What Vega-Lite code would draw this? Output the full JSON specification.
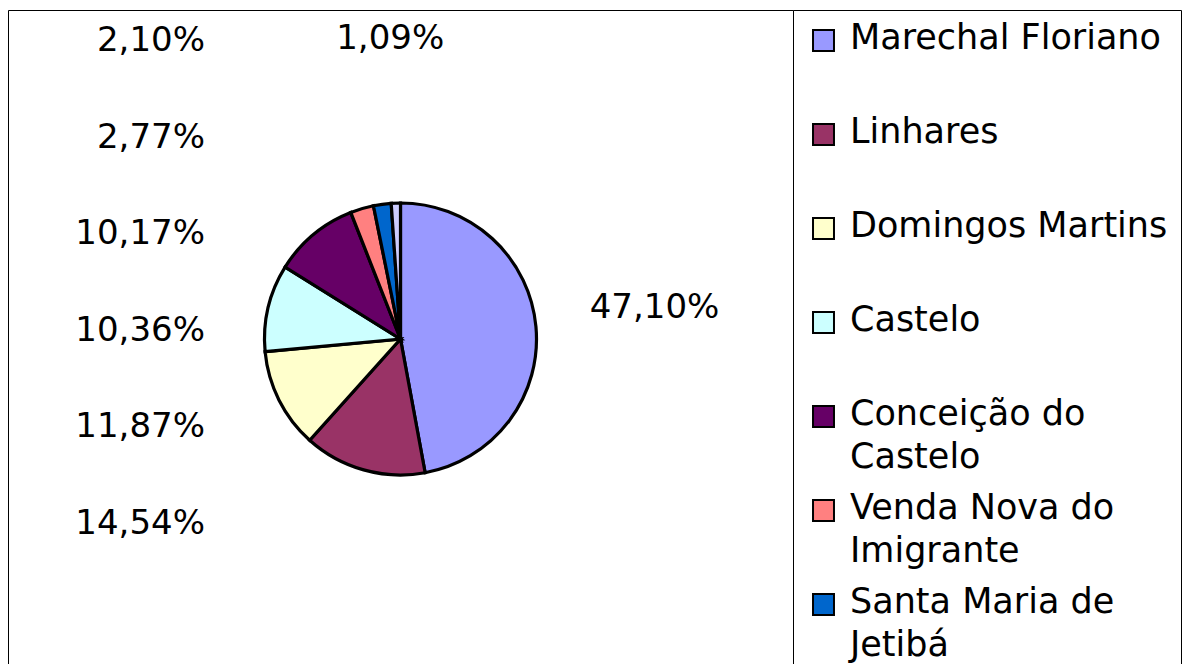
{
  "$schema": "https://vega.github.io/schema/vega-lite/v6.json",
  "width": 785,
  "height": 658,
  "padding": {"left": 8, "top": 9, "right": 0, "bottom": 0},
  "background": "white",
  "config": {"view": {"stroke": "black", "strokeWidth": 1}, "font": "DejaVu Sans"},
  "data": {
    "values": [
      {"name": "Marechal Floriano", "pct": 47.10, "label": "47,10%", "order": 1},
      {"name": "Linhares", "pct": 14.54, "label": "14,54%", "order": 2},
      {"name": "Domingos Martins", "pct": 11.87, "label": "11,87%", "order": 3},
      {"name": "Castelo", "pct": 10.36, "label": "10,36%", "order": 4},
      {"name": "Conceição do Castelo", "pct": 10.17, "label": "10,17%", "order": 5},
      {"name": "Venda Nova do Imigrante", "pct": 2.77, "label": "2,77%", "order": 6},
      {"name": "Santa Maria de Jetibá", "pct": 2.10, "label": "2,10%", "order": 7},
      {"name": "Outros", "pct": 1.09, "label": "1,09%", "order": 8}
    ]
  },
  "layer": [
    {
      "mark": {"type": "arc", "outerRadius": 136, "stroke": "black", "strokeWidth": 3.2},
      "encoding": {
        "theta": {"field": "pct", "type": "quantitative", "stack": true},
        "order": {"field": "order", "type": "quantitative"},
        "color": {
          "field": "name",
          "type": "nominal",
          "sort": ["Marechal Floriano", "Linhares", "Domingos Martins", "Castelo", "Conceição do Castelo", "Venda Nova do Imigrante", "Santa Maria de Jetibá", "Outros"],
          "scale": {
            "domain": ["Marechal Floriano", "Linhares", "Domingos Martins", "Castelo", "Conceição do Castelo", "Venda Nova do Imigrante", "Santa Maria de Jetibá", "Outros"],
            "range": ["#9999FF", "#993366", "#FFFFCC", "#CCFFFF", "#660066", "#FF8080", "#0066CC", "#CCCCFF"]
          },
          "legend": {
            "orient": "none",
            "legendX": 785,
            "legendY": 0,
            "title": null,
            "direction": "vertical",
            "strokeColor": "black",
            "fillColor": "white",
            "padding": 13,
            "symbolType": "square",
            "symbolSize": 440,
            "symbolStrokeColor": "black",
            "symbolStrokeWidth": 2,
            "symbolOpacity": 1,
            "labelFont": "DejaVu Sans",
            "labelFontSize": 35,
            "labelColor": "black",
            "labelLimit": 600,
            "labelOffset": 9,
            "labelBaseline": "alphabetic",
            "gridAlign": "all",
            "rowPadding": 15,
            "labelExpr": "datum.label == 'Conceição do Castelo' ? ['Conceição do', 'Castelo'] : datum.label == 'Venda Nova do Imigrante' ? ['Venda Nova do', 'Imigrante'] : datum.label == 'Santa Maria de Jetibá' ? ['Santa Maria de', 'Jetibá'] : datum.label",
            "encode": {"labels": {"update": {"lineHeight": {"value": 43}, "dy": {"value": 8}}}}
          }
        }
      }
    },
    {
      "mark": {"type": "text", "radius": 190, "align": "left", "baseline": "middle", "dy": -14, "fontSize": 34, "font": "DejaVu Sans", "color": "black"},
      "encoding": {
        "theta": {"field": "pct", "type": "quantitative", "stack": true},
        "order": {"field": "order", "type": "quantitative"},
        "detail": {"field": "name", "type": "nominal"},
        "text": {"condition": {"test": "datum.name === 'Marechal Floriano'", "field": "label", "type": "nominal"}, "value": ""}
      }
    },
    {
      "mark": {"type": "text", "radius": 300, "align": "center", "baseline": "middle", "fontSize": 34, "font": "DejaVu Sans", "color": "black"},
      "encoding": {
        "theta": {"field": "pct", "type": "quantitative", "stack": true},
        "order": {"field": "order", "type": "quantitative"},
        "detail": {"field": "name", "type": "nominal"},
        "text": {"condition": {"test": "datum.order === 8", "field": "label", "type": "nominal"}, "value": ""}
      }
    },
    {
      "transform": [{"filter": "datum.order >= 2 && datum.order <= 7"}],
      "mark": {"type": "text", "align": "right", "baseline": "middle", "fontSize": 34, "font": "DejaVu Sans", "color": "black"},
      "encoding": {
        "y": {"field": "order", "type": "ordinal", "sort": "descending", "scale": {"type": "point", "range": [31, 514], "padding": 0}, "axis": null},
        "x": {"value": 197},
        "text": {"field": "label", "type": "nominal"}
      }
    }
  ]
}
